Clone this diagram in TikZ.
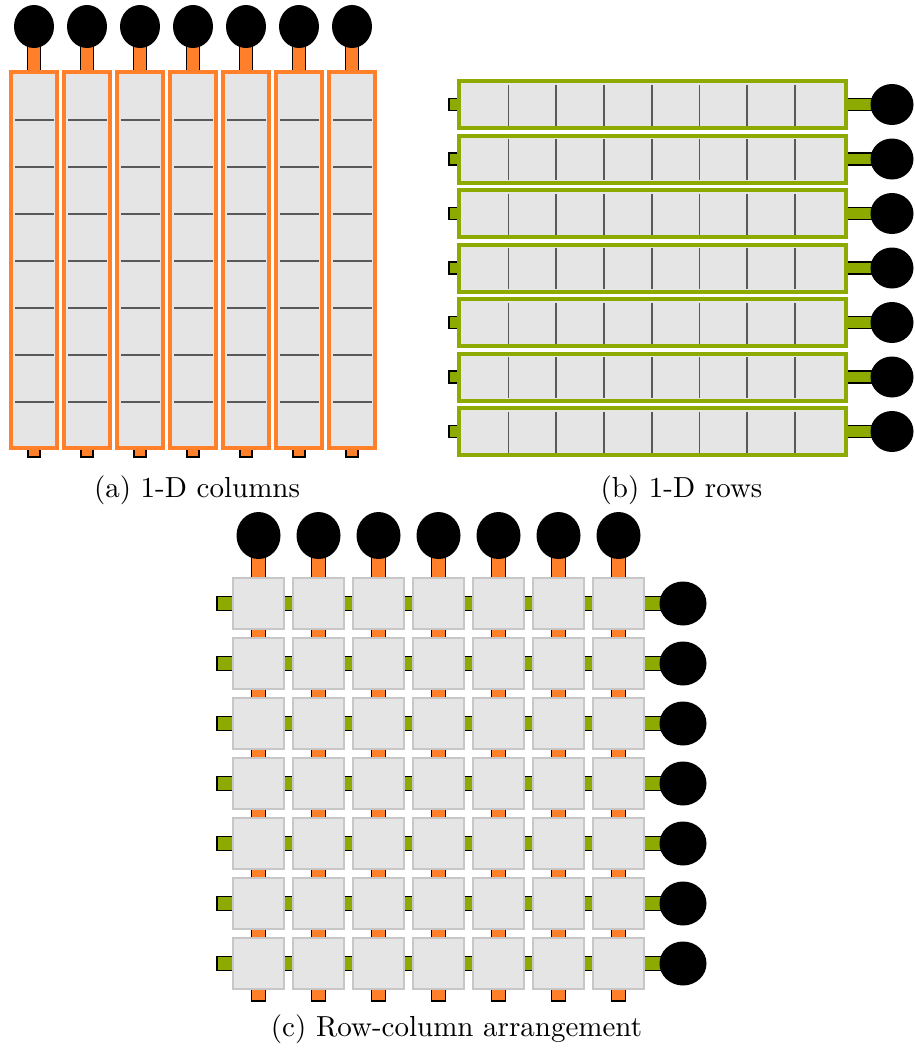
\documentclass[tikz,border=0pt]{standalone}
\usepackage{xcolor}
\usepackage{tikz}

\definecolor{pinorange}{HTML}{FF7F2A}
\definecolor{pingreen}{HTML}{8CAA00}
\definecolor{cellgray}{HTML}{E5E5E5}

\begin{document}
\begin{tikzpicture}[x=1pt, y=-1pt,
  colframe/.style={draw=pinorange, line width=4pt, fill=cellgray},
  rowframe/.style={draw=pingreen, line width=4pt, fill=cellgray},
  obar/.style={draw=black, line width=1.2pt, fill=pinorange},
  gbar/.style={draw=black, line width=1.2pt, fill=pingreen},
  cell/.style={draw=black!22, line width=1.5pt, fill=cellgray},
  sep/.style={draw=black!65, line width=1.8pt},
  caption/.style={font=\fontsize{10}{12}\selectfont, scale=2.9, inner sep=0pt}
]
  \useasboundingbox (0,0) rectangle (915,1053);

  % (a) 1-D columns
  \foreach \k in {0,...,6} {
    \pgfmathsetmacro{\cx}{34+53*\k}
    \draw[obar] ({\cx-6.5},44) rectangle ({\cx+6.5},74);
    \draw[obar] ({\cx-6},446) rectangle ({\cx+6},457);
    \draw[colframe] ({\cx-23},72) rectangle ({\cx+23},448);
    \foreach \j in {0,...,6}
      \draw[sep] ({\cx-19},{120+47*\j}) -- ({\cx+20},{120+47*\j});
    \fill ({\cx},26.5) ellipse [x radius=20pt, y radius=21.5pt];
  }

  % (b) 1-D rows
  \foreach \r in {0,...,6} {
    \pgfmathsetmacro{\cy}{104.5+54.5*\r}
    \draw[gbar] (449,{\cy-6}) rectangle (462,{\cy+6});
    \draw[gbar] (843,{\cy-6}) rectangle (874,{\cy+6});
    \draw[rowframe] (459,{\cy-23.5}) rectangle (846,{\cy+23.5});
    \foreach \j in {0,...,6}
      \draw[sep] ({508.5+47.75*\j},{\cy-20}) -- ++(0,41);
    \fill (892,{\cy}) ellipse [x radius=21.5pt, y radius=20.5pt];
  }

  % (c) Row-column arrangement
  \foreach \r in {0,...,6}
    \draw[gbar] (217,{596.5+60*\r}) rectangle (665,{610.5+60*\r});
  \foreach \k in {0,...,6}
    \draw[obar] ({251.5+60*\k},550) rectangle ({265.5+60*\k},1001);
  \foreach \k in {0,...,6}
    \foreach \r in {0,...,6}
      \draw[cell] ({233+60*\k},{578+60*\r}) rectangle ++(51,51);
  \foreach \k in {0,...,6}
    \fill ({258.5+60*\k},535.5) ellipse [x radius=22pt, y radius=23.5pt];
  \foreach \r in {0,...,6}
    \fill (683,{603.5+60*\r}) ellipse [x radius=23.5pt, y radius=22pt];

  % Captions
  \node[caption] (capa) at (197,490) {(a) 1-D columns};
  \node[caption] (capb) at (681.5,490) {(b) 1-D rows};
  \node[caption] (capc) at (456.5,1029) {(c) Row-column arrangement};
\end{tikzpicture}
\end{document}
